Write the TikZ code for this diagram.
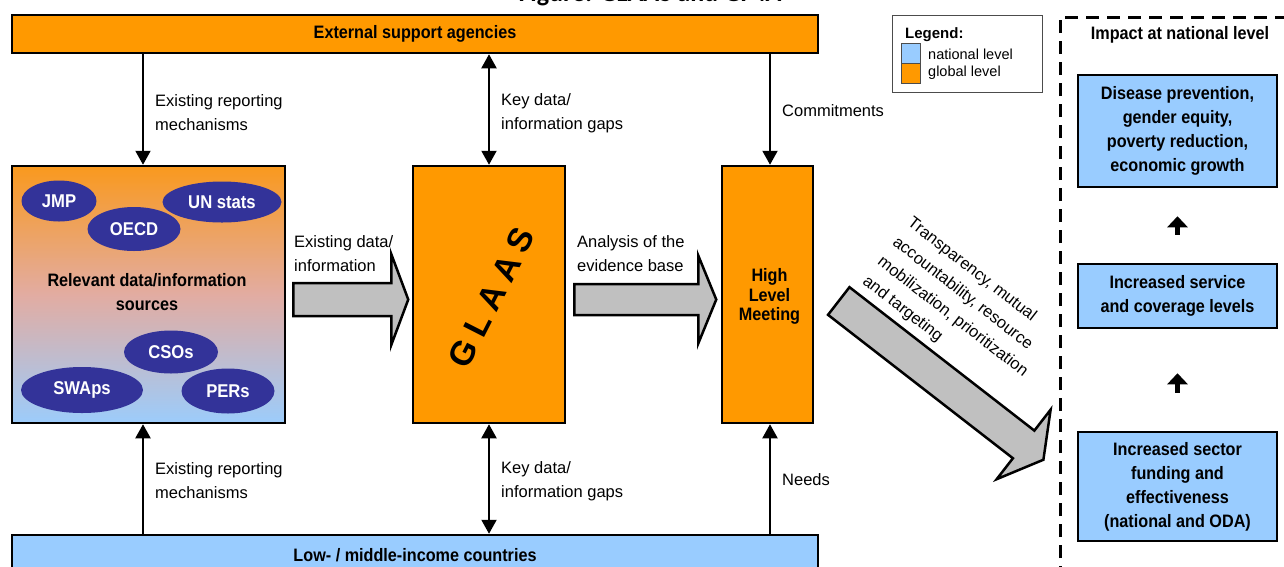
\documentclass[tikz,border=0pt]{standalone}
\usepackage{fontspec}
\setmainfont{Liberation Sans}
\newfontfamily\cnd[FakeStretch=0.9]{Liberation Sans}
\newfontfamily\ttl{Carlito}
\usetikzlibrary{arrows.meta,calc,shapes.geometric}
\definecolor{gorange}{RGB}{255,153,0}
\definecolor{nblue}{RGB}{153,204,255}
\definecolor{eblue}{RGB}{51,51,153}
\definecolor{agray}{RGB}{192,192,192}
\definecolor{srctop}{RGB}{249,153,30}
\definecolor{srcmid}{RGB}{226,172,162}
\definecolor{srcbot}{RGB}{156,204,251}
\tikzset{
  obox/.style={draw, line width=2.5pt, fill=gorange, inner sep=0pt, align=center,
    font={\cnd\bfseries\fontsize{18}{20}\selectfont}},
  bbox/.style={draw, line width=2.5pt, fill=nblue, inner sep=0pt, align=center,
    minimum width=199pt, font={\cnd\bfseries\fontsize{18}{24}\selectfont}},
  btext/.style={inner sep=0pt, align=center, font={\cnd\bfseries\fontsize{18}{24}\selectfont}},
  lbl/.style={inner sep=0pt, align=left, anchor=west, font={\fontsize{16.5}{24}\selectfont}},
  arr/.style={line width=2pt, -{Triangle[width=15pt,length=14pt]}},
  darr/.style={line width=2pt, {Triangle[width=15pt,length=14pt]}-{Triangle[width=15pt,length=14pt]}},
  fat/.style={line width=5.5pt, -{Triangle[width=20pt,length=11pt]}},
  ell/.style={ellipse, fill=eblue, text=white, inner sep=0pt,
    font={\cnd\bfseries\fontsize{18.5}{20}\selectfont}},
  garrow/.style={draw, line width=2.5pt, fill=agray, line join=miter},
  dashbox/.style={line width=3pt, dash pattern=on 13pt off 8pt},
}
\begin{document}
\begin{tikzpicture}[x=1pt,y=-1pt]
\useasboundingbox (0,0) rectangle (1284,566);
\clip (0,0) rectangle (1284,566);

% title (cut off at top)
\node[font={\ttl\bfseries\fontsize{26}{30}\selectfont}, anchor=base, inner sep=0pt] (title) at (650,1) {Figure: GLAAS and GF4A};

% bars
\node[obox, minimum width=806pt, minimum height=38pt] (ext) at (415,34) {External support agencies};
\node[obox, fill=nblue, minimum width=806pt, minimum height=42pt] (lmic) at (415,556) {};
\node[btext] (lmict) at (415,555) {Low- / middle-income countries};

% sources box
\node[draw, line width=2.5pt, top color=srctop, bottom color=srcbot, middle color=srcmid,
  minimum width=273pt, minimum height=257pt] (src) at (148.5,294.5) {};
\node[ell, minimum width=75pt, minimum height=41pt] (jmp) at (59,201) {JMP};
\node[ell, minimum width=93pt, minimum height=44pt] (oecd) at (134,229) {OECD};
\node[ell, minimum width=119pt, minimum height=41pt] (un) at (222,202) {UN stats};
\node[btext] (srct) at (147,292) {Relevant data/information\\sources};
\node[ell, minimum width=94pt, minimum height=43pt] (cso) at (171,352) {CSOs};
\node[ell, minimum width=122pt, minimum height=46pt] (swap) at (82,390) {SWAps};
\node[ell, minimum width=93pt, minimum height=45pt] (per) at (228,391) {PERs};

% GLAAS and HLM
\node[obox, minimum width=152pt, minimum height=257pt] (glaas) at (489,294.5) {};
\node[rotate=63, inner sep=0pt, font={\bfseries\fontsize{34}{36}\selectfont}] (glaast)
  at ($(glaas.center)+(2.5,3)$) {G\hspace{8pt}L\hspace{8pt}A\hspace{8pt}A\hspace{8pt}S};
\node[obox, minimum width=91pt, minimum height=257pt] (hlm) at (767.5,294.5) {};
\node[btext, font={\cnd\bfseries\fontsize{18}{19.5}\selectfont}] (hlmt) at ($(hlm.center)+(2,2)$) {High\\Level\\Meeting};

% thin connectors
\coordinate (xa) at (143,0);
\coordinate (xc) at (770,0);
\draw[arr] (ext.south -| xa) -- (src.north -| xa);
\draw[darr] (ext.south -| glaas.center) -- (glaas.north);
\draw[arr] (ext.south -| xc) -- (hlm.north -| xc);
\draw[arr] (lmic.north -| xa) -- (src.south -| xa);
\draw[darr] (lmic.north -| glaas.center) -- (glaas.south);
\draw[arr] (lmic.north -| xc) -- (hlm.south -| xc);

\node[lbl] (l1) at (155,113) {Existing reporting\\mechanisms};
\node[lbl] (l2) at (501,113) {Key data/\\information gaps};
\node[lbl] (l3) at (782,111) {Commitments};
\node[lbl] (l4) at (155,481) {Existing reporting\\mechanisms};
\node[lbl] (l5) at (501,481) {Key data/\\information gaps};
\node[lbl] (l6) at (782,480) {Needs};
\node[lbl] (l7) at (294,254) {Existing data/\\information};
\node[lbl] (l8) at (577,254) {Analysis of the\\evidence base};

% block arrows
\begin{scope}[shift={($(src.east)+(7,5)$)}]
\draw[garrow] (0,-16.5) -- (98,-16.5) -- (98,-45.5) -- (115,0) -- (98,45.5) -- (98,16.5) -- (0,16.5) -- cycle;
\end{scope}
\begin{scope}[shift={($(glaas.east)+(8,5)$)}]
\draw[garrow] (0,-15.5) -- (124,-15.5) -- (124,-44) -- (142,0) -- (124,44) -- (124,15.5) -- (0,15.5) -- cycle;
\end{scope}
\begin{scope}[shift={($(hlm.east)+(24.5,6.5)$)}, rotate=-37.8]
\draw[garrow] (0,-17.5) -- (234,-17.5) -- (234,-44) -- (259,0) -- (234,44) -- (234,17.5) -- (0,17.5) -- cycle;
\node[lbl, anchor=north west, transform shape, font={\fontsize{16.5}{24.5}\selectfont}] (diag) at (7,-114)
  {Transparency, mutual\\accountability, resource\\mobilization, prioritization\\and targeting};
\end{scope}

% legend
\node[draw=black!70, line width=1pt, minimum width=150pt, minimum height=77pt, inner sep=0pt] (leg) at (967,53.5) {};
\node[anchor=west, inner sep=0pt, font={\bfseries\fontsize{15}{16}\selectfont}] (legt) at (905,35) {Legend:};
\node[draw=black!70, line width=0.8pt, fill=nblue, minimum width=19pt, minimum height=20pt, inner sep=0pt] (sw1) at (910.5,53) {};
\node[draw=black!70, line width=0.8pt, fill=gorange, minimum width=19pt, minimum height=20pt, inner sep=0pt] (sw2) at (910.5,73) {};
\node[anchor=west, inner sep=0pt, font={\fontsize{14.5}{16}\selectfont}] (legn) at (928,54) {national level};
\node[anchor=west, inner sep=0pt, font={\fontsize{14.5}{16}\selectfont}] (legg) at (928,73) {global level};

% impact column
\draw[dashbox] (1060,600) -- (1060,17) -- (1300,17);
\node[btext] (impt) at (1180,35) {Impact at national level};
\node[bbox, minimum height=112pt] (imp1) at (1177.5,131) {Disease prevention,\\gender equity,\\poverty reduction,\\economic growth};
\node[bbox, minimum height=64pt] (imp2) at (1177.5,296) {Increased service\\and coverage levels};
\node[bbox, minimum height=109pt] (imp3) at (1177.5,486.5) {Increased sector\\funding and\\effectiveness\\(national and ODA)};
\draw[fat, shorten <=28pt, shorten >=28pt] (imp2.north) -- (imp1.south);
\draw[fat, shorten <=38pt, shorten >=44pt] (imp3.north) -- (imp2.south);
\end{tikzpicture}
\end{document}
